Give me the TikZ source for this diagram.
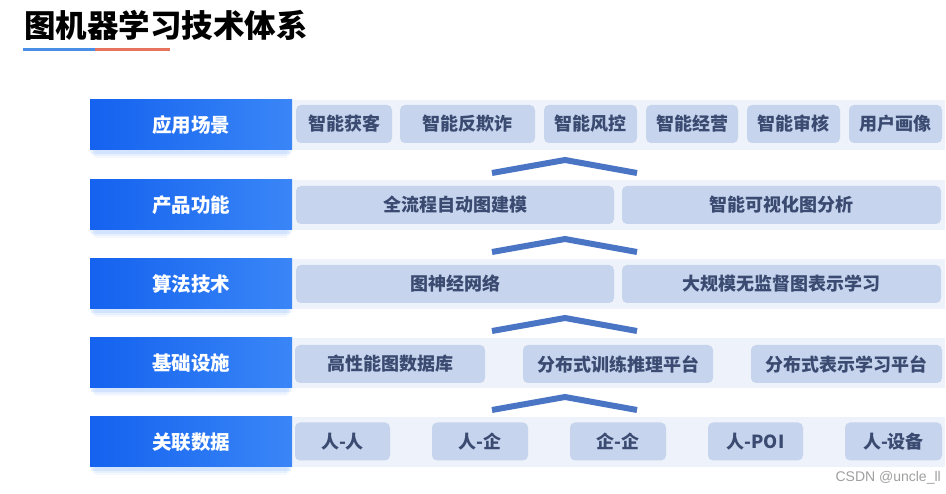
\documentclass[tikz,border=0pt]{standalone}
\usepackage{fontspec}
\setmainfont{Noto Sans CJK SC}
\newfontfamily\titlefont{Noto Sans CJK SC Black}
\newfontfamily\wmfont{Liberation Sans}
\usepackage{tikz}
\usetikzlibrary{shadows, positioning}

\definecolor{lblueA}{HTML}{1462EF}
\definecolor{lblueB}{HTML}{3A86F7}
\definecolor{bandbg}{HTML}{EEF2FA}
\definecolor{itembg}{HTML}{C6D4EE}
\definecolor{itemtx}{HTML}{3A4A70}
\definecolor{chevc}{HTML}{4A74C4}
\definecolor{ulblue}{HTML}{4A8EE6}
\definecolor{ulred}{HTML}{E8735E}

\begin{document}
\begin{tikzpicture}[
		x=1pt, y=-1pt,
		%% Node styles
		layer/.style={rectangle, left color=lblueA, right color=lblueB,
			minimum width=202pt, minimum height=50pt, inner sep=0pt,
			text=white, font=\fontsize{19.5}{22}\selectfont\bfseries,
			general shadow={fill=lblueB, opacity=0.05, shadow yshift=-10pt, shadow scale=0.95},
			general shadow={fill=lblueB, opacity=0.08, shadow yshift=-7pt, shadow scale=0.97},
			general shadow={fill=lblueB, opacity=0.12, shadow yshift=-4pt, shadow scale=0.99}},
		band/.style={rectangle, fill=bandbg, minimum width=653pt,
			minimum height=50pt, inner sep=0pt},
		item/.style={rectangle, fill=itembg, rounded corners=5pt,
			minimum height=38pt, inner sep=0pt, text=itemtx,
			font=\fontsize{18}{20}\selectfont\bfseries},
		%% Chevron style
		chev/.style={draw=chevc, line width=6pt, line join=miter},
		]
		\useasboundingbox (0,0) rectangle (946,494);
		
		%% ── Title ───────────────────────────────────────────────────────
		\node[anchor=west, inner sep=0pt, font=\titlefont\fontsize{31.5}{34}\selectfont]
		(title) at (24,25) {图机器学习技术体系};
		\draw[ulblue, line width=3pt] (23,50) -- (95,50);
		\draw[ulred,  line width=3pt] (95,50) -- (170,50);
		
		%% ── Layer labels and bands ──────────────────────────────────────
		\foreach \txt/\y [count=\i] in {应用场景/125, 产品功能/205, 算法技术/284,
			基础设施/363, 关联数据/442}
		{
			\node[band]  (band\i) at (618.5,\y) {};
			\node[layer] (lyr\i)  at (191,\y)   {\txt};
		}
		
		%% ── Row 1: applications ─────────────────────────────────────────
		\foreach \txt/\cx/\w [count=\i] in {智能获客/344/96, 智能反欺诈/467.5/135,
			智能风控/590.5/93, 智能经营/692/92, 智能审核/793.5/93, 用户画像/895.5/93}
		\node[item, minimum width=\w pt] (app\i) at (\cx,124) {\txt};
		
		%% ── Row 2 / 3: products and algorithms ─────────────────────────
		\node[item, minimum width=318pt] (prod1) at (455,205)   {全流程自动图建模};
		\node[item, minimum width=319pt] (prod2) at (781.5,205) {智能可视化图分析};
		\node[item, minimum width=318pt] (alg1)  at (455,284)   {图神经网络};
		\node[item, minimum width=319pt] (alg2)  at (781.5,284) {大规模无监督图表示学习};
		
		%% ── Row 4: infrastructure ──────────────────────────────────────
		\node[item, minimum width=190pt] (inf1) at (390,364)   {高性能图数据库};
		\node[item, minimum width=190pt] (inf2) at (618,364)   {分布式训练推理平台};
		\node[item, minimum width=191pt] (inf3) at (846.5,364) {分布式表示学习平台};
		
		%% ── Row 5: relational data ─────────────────────────────────────
		\foreach \txt/\cx/\w [count=\i] in {人-人/342.5/95, 人-企/480/96,
			企-企/618/96, 人-POI/755.5/95, 人-设备/893.5/97}
		\node[item, minimum width=\w pt] (dat\i) at (\cx,441.5) {\txt};
		
		%% ── Chevrons between layers ─────────────────────────────────────
		\foreach \t in {180, 259, 338, 417}
		\draw[chev] (492,\t-7) -- (565,\t-20) -- (637,\t-7);
		
		%% watermark
		\node[anchor=east, inner sep=0pt, text=gray!75,
		font=\wmfont\fontsize{14}{16}\selectfont] (wm) at (941,478) {CSDN @uncle\_ll};
		
	\end{tikzpicture}
\end{document}
